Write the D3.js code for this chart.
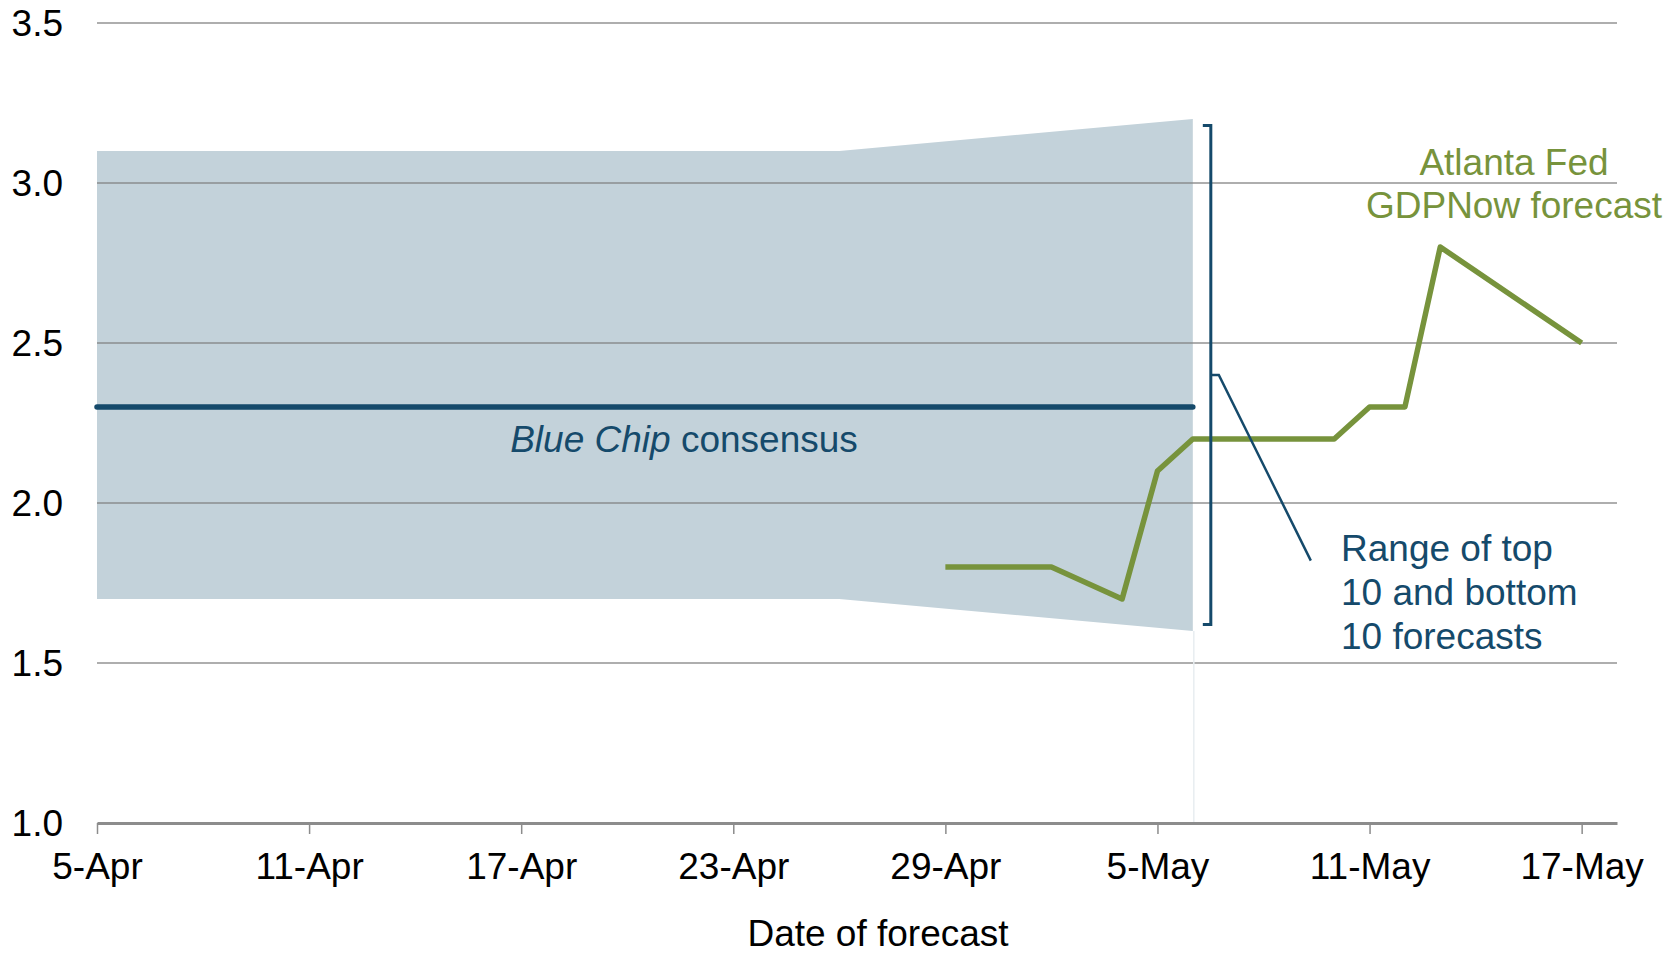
<!DOCTYPE html>
<html>
<head>
<meta charset="utf-8">
<script src="https://cdn.jsdelivr.net/npm/d3@7"></script>
<style>
  body { margin: 0; background: #fff; }
  svg text { font-family: "Liberation Sans", Arial, sans-serif; }
</style>
</head>
<body>
<div id="chart"></div>
<script>
// Data
var xTickDates = ["2018-04-05", "2018-04-11", "2018-04-17", "2018-04-23", "2018-04-29", "2018-05-05", "2018-05-11", "2018-05-17"];
var xTickLabels = ["5-Apr", "11-Apr", "17-Apr", "23-Apr", "29-Apr", "5-May", "11-May", "17-May"];
var yTicks = [1.0, 1.5, 2.0, 2.5, 3.0, 3.5];

// Blue Chip range of top 10 / bottom 10
var bandDates = ["2018-04-05", "2018-04-26", "2018-05-06"];
var bandTop = [3.1, 3.1, 3.2];
var bandBottom = [1.7, 1.7, 1.6];

// Blue Chip consensus
var consensusDates = ["2018-04-05", "2018-05-06"];
var consensusValues = [2.3, 2.3];

// Atlanta Fed GDPNow
var gdpDates = ["2018-04-29", "2018-05-02", "2018-05-04", "2018-05-05", "2018-05-06", "2018-05-10", "2018-05-11", "2018-05-12", "2018-05-13", "2018-05-17"];
var gdpValues = [1.8, 1.8, 1.7, 2.1, 2.2, 2.2, 2.3, 2.3, 2.8, 2.5];

var parse = d3.timeParse("%Y-%m-%d");

var width = 1669, height = 953;
var fontSize = 37;
var blue = "#154a6b", green = "#77933c", bandColor = "#c3d2da";

var xScale = d3.scaleTime()
    .domain([parse("2018-04-05"), parse("2018-05-18")])
    .range([97, 1617]);

var yScale = d3.scaleLinear()
    .domain([1, 3.5])
    .range([823, 23]);

var svg = d3.select("#chart").append("svg")
    .attr("width", width)
    .attr("height", height);

// Range band
var band = bandDates.map(function (d, i) {
    return { date: parse(d), top: bandTop[i], bottom: bandBottom[i] };
});
svg.append("path")
    .datum(band)
    .attr("d", d3.area()
        .x(function (d) { return xScale(d.date); })
        .y0(function (d) { return yScale(d.bottom); })
        .y1(function (d) { return yScale(d.top); }))
    .attr("fill", bandColor);

// Gridlines (drawn over band)
svg.append("g")
    .selectAll("line")
    .data(yTicks.slice(1))
    .enter().append("line")
    .attr("x1", xScale.range()[0])
    .attr("x2", xScale.range()[1])
    .attr("y1", function (d) { return yScale(d); })
    .attr("y2", function (d) { return yScale(d); })
    .attr("stroke", "#808080")
    .attr("stroke-opacity", 0.85)
    .attr("stroke-width", 1.5);

// Faint vertical marker at end of band
var lastBand = parse(bandDates[bandDates.length - 1]);
svg.append("line")
    .attr("x1", xScale(lastBand) + 1)
    .attr("x2", xScale(lastBand) + 1)
    .attr("y1", yScale(bandBottom[bandBottom.length - 1]))
    .attr("y2", yScale(1))
    .attr("stroke", "#e8edf1")
    .attr("stroke-width", 1.5);

// X axis
var xAxis = d3.axisBottom(xScale)
    .tickValues(xTickDates.map(parse))
    .tickFormat(function (d, i) { return xTickLabels[i]; })
    .tickSize(11)
    .tickSizeOuter(0)
    .tickPadding(19);

var gx = svg.append("g")
    .attr("transform", "translate(0," + yScale(1) + ")")
    .call(xAxis);
gx.select(".domain").attr("stroke", "#8c8c8c").attr("stroke-width", 3);
gx.selectAll(".tick line").attr("stroke", "#8c8c8c").attr("stroke-width", 1.5);
gx.selectAll(".tick text")
    .attr("font-size", fontSize)
    .attr("fill", "#000")
    .attr("dy", "0.71em");

// Y axis labels
svg.append("g")
    .selectAll("text")
    .data(yTicks)
    .enter().append("text")
    .attr("x", 63)
    .attr("y", function (d) { return yScale(d); })
    .attr("dy", "0.35em")
    .attr("text-anchor", "end")
    .attr("font-size", fontSize)
    .attr("fill", "#000")
    .text(function (d) { return d.toFixed(1); });

// Consensus line
var consensus = consensusDates.map(function (d, i) { return { date: parse(d), value: consensusValues[i] }; });
svg.append("path")
    .datum(consensus)
    .attr("d", d3.line()
        .x(function (d) { return xScale(d.date); })
        .y(function (d) { return yScale(d.value); }))
    .attr("fill", "none")
    .attr("stroke", blue)
    .attr("stroke-width", 5.5)
    .attr("stroke-linecap", "round");

// GDPNow line
var gdp = gdpDates.map(function (d, i) { return { date: parse(d), value: gdpValues[i] }; });
svg.append("path")
    .datum(gdp)
    .attr("d", d3.line()
        .x(function (d) { return xScale(d.date); })
        .y(function (d) { return yScale(d.value); }))
    .attr("fill", "none")
    .attr("stroke", green)
    .attr("stroke-width", 5.5)
    .attr("stroke-linejoin", "round");

// Bracket for the range
var bx = xScale(lastBand) + 18;
var bTop = yScale(3.18), bBot = yScale(1.62), bMid = yScale(2.4);
svg.append("path")
    .attr("d", "M" + (bx - 8) + "," + bTop + "H" + bx + "V" + bBot + "H" + (bx - 8))
    .attr("fill", "none")
    .attr("stroke", blue)
    .attr("stroke-width", 3);
svg.append("path")
    .attr("d", "M" + bx + "," + bMid + "H" + (bx + 8) + "L" + (bx + 100) + "," + yScale(1.82))
    .attr("fill", "none")
    .attr("stroke", blue)
    .attr("stroke-width", 2.5);

// Annotations
var rangeText = svg.append("text")
    .attr("x", 1341)
    .attr("y", 561)
    .attr("font-size", fontSize)
    .attr("fill", blue);
["Range of top", "10 and bottom", "10 forecasts"].forEach(function (t, i) {
    rangeText.append("tspan").attr("x", 1341).attr("dy", i === 0 ? 0 : 44).text(t);
});

var gdpText = svg.append("text")
    .attr("x", 1514)
    .attr("y", 175)
    .attr("text-anchor", "middle")
    .attr("font-size", fontSize)
    .attr("fill", green);
["Atlanta Fed", "GDPNow forecast"].forEach(function (t, i) {
    gdpText.append("tspan").attr("x", 1514).attr("dy", i === 0 ? 0 : 43).text(t);
});

var bcText = svg.append("text")
    .attr("x", 684)
    .attr("y", 452)
    .attr("text-anchor", "middle")
    .attr("font-size", fontSize)
    .attr("fill", blue);
bcText.append("tspan").attr("font-style", "italic").text("Blue Chip");
bcText.append("tspan").text(" consensus");

// Axis title
svg.append("text")
    .attr("x", 878)
    .attr("y", 946)
    .attr("text-anchor", "middle")
    .attr("font-size", fontSize)
    .attr("fill", "#000")
    .text("Date of forecast");
</script>
</body>
</html>
